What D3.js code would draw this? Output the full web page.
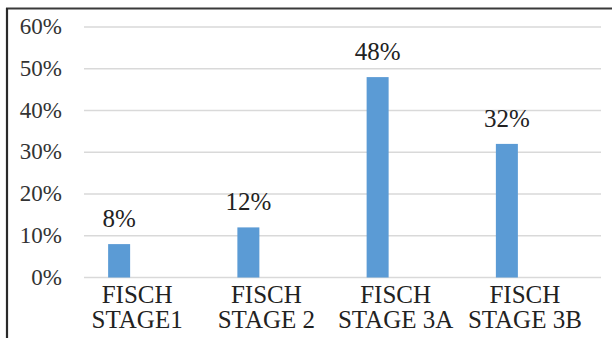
<!DOCTYPE html>
<html>
<head>
<meta charset="utf-8">
<script src="https://cdn.jsdelivr.net/npm/d3@7/dist/d3.min.js"></script>
<style>
  html, body { margin: 0; padding: 0; background: #fff; }
  svg { display: block; }
  svg text { font-family: "Liberation Serif", "Times New Roman", serif; }
</style>
</head>
<body>
<svg id="chart" width="612" height="338"></svg>
<script>
// Share of patients per Fisch stage
const categories = [["FISCH", "STAGE1"], ["FISCH", "STAGE 2"], ["FISCH", "STAGE 3A"], ["FISCH", "STAGE 3B"]];
const values = [8, 12, 48, 32];
const yTicks = [0, 10, 20, 30, 40, 50, 60];

const svg = d3.select("#chart");

// frame: dark top and left edge
svg.append("line").attr("x1", 6).attr("x2", 612).attr("y1", 8.5).attr("y2", 8.5)
  .attr("stroke", "#3a3a3a").attr("stroke-width", 2.2);
svg.append("line").attr("x1", 7).attr("x2", 7).attr("y1", 8).attr("y2", 338)
  .attr("stroke", "#2a2a2a").attr("stroke-width", 2.2);

const y = d3.scaleLinear().domain([0, 60]).range([277.5, 27]);
const x = d3.scaleBand().domain(d3.range(categories.length)).range([84, 601]);

// horizontal gridlines
svg.append("g").selectAll("line").data(yTicks).join("line")
  .attr("x1", 84).attr("x2", 601)
  .attr("y1", d => y(d)).attr("y2", d => y(d))
  .attr("stroke", "#d9d9d9").attr("stroke-width", 1.5);

// y tick labels
svg.append("g").selectAll("text").data(yTicks).join("text")
  .attr("x", 62).attr("y", d => y(d) + 7)
  .attr("text-anchor", "end")
  .attr("font-size", 23).attr("fill", "#333")
  .text(d => d + "%");

// bars sit left of each category centre
const barW = 22;
const barX = i => x(i) + x.bandwidth() / 2 - 40.5;
svg.append("g").selectAll("rect").data(values).join("rect")
  .attr("x", (d, i) => barX(i))
  .attr("y", d => y(d))
  .attr("width", barW)
  .attr("height", d => y(0) - y(d))
  .attr("fill", "#5b9bd5");

// value labels
svg.append("g").selectAll("text").data(values).join("text")
  .attr("x", (d, i) => barX(i) + barW / 2)
  .attr("y", d => y(d) - 17)
  .attr("text-anchor", "middle")
  .attr("font-size", 25).attr("fill", "#222")
  .text(d => d + "%");

// category labels (two lines)
const cat = svg.append("g").selectAll("text").data(categories).join("text")
  .attr("text-anchor", "middle")
  .attr("font-size", 25).attr("fill", "#222");
cat.selectAll("tspan").data((d, i) => d.map(t => ({ t, i }))).join("tspan")
  .attr("x", d => x(d.i) + x.bandwidth() / 2 - 11.5)
  .attr("y", (d, j) => 302.5 + j * 25.5)
  .text(d => d.t);
</script>
</body>
</html>
